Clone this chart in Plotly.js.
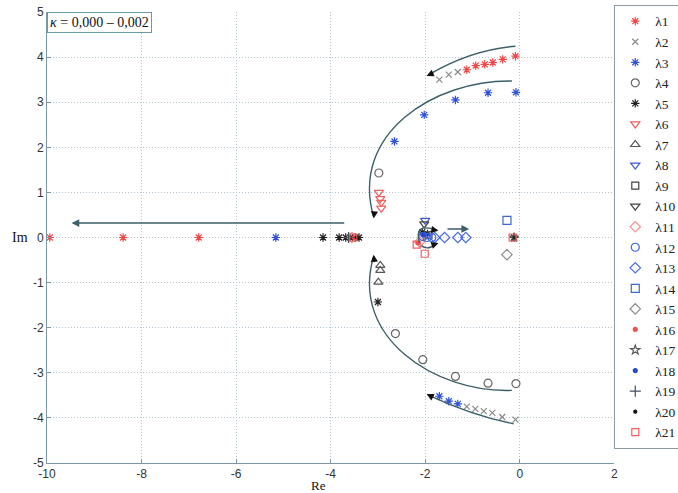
<!DOCTYPE html>
<html>
<head>
<meta charset="utf-8">
<script src="https://cdn.plot.ly/plotly-3.0.1.min.js"></script>
<style>html,body{margin:0;padding:0;background:#fff;}#chart{width:678px;height:493px;}</style>
</head>
<body>
<div id="chart"></div>
<script>
// ---- data ----
const names = ['λ1','λ2','λ3','λ4','λ5','λ6','λ7','λ8','λ9','λ10','λ11','λ12','λ13','λ14','λ15','λ16','λ17','λ18','λ19','λ20','λ21'];

const l1x = [-1.12,-0.93,-0.74,-0.57,-0.36,-0.09,-9.94,-8.39,-6.79];
const l1y = [3.72,3.81,3.84,3.88,3.95,4.02,0,0,0];
const l2x = [-1.70,-1.50,-1.31,-1.12,-0.94,-0.76,-0.58,-0.37,-0.09];
const l2y = [3.50,3.61,3.67,-3.75,-3.80,-3.85,-3.89,-3.98,-4.04];
const l3x = [-0.08,-0.67,-1.36,-2.02,-2.65,-1.70,-1.50,-1.31,-5.16];
const l3y = [3.22,3.21,3.05,2.72,2.13,-3.52,-3.63,-3.69,0];
const l4x = [-2.98,-2.63,-2.05,-1.36,-0.67,-0.08];
const l4y = [1.43,-2.13,-2.71,-3.08,-3.23,-3.24];
const l5x = [-3.00,-4.16,-3.82,-3.68,-3.58,-3.48,-3.40,-1.95,-2.06,-0.12];
const l5y = [-1.43,0,0,0,0,0,0,0.08,0.12,0];
const l6x = [-2.98,-2.95,-2.93,-2.93];
const l6y = [1.00,0.86,0.78,0.65];
const l7x = [-2.95,-2.95,-2.99];
const l7y = [-0.62,-0.73,-0.99];
const l8x = [-2.00];
const l8y = [0.38];
const l9x = [-1.93];
const l9y = [0.05];
const l10x = [-2.02];
const l10y = [0.30];
const l11x = [-3.55,-2.12];
const l11y = [0,-0.10];
const l12x = [-1.96,-1.86,-2.05];
const l12y = [0,0,0.02];
const l13x = [-1.80,-1.59,-1.31,-1.14];
const l13y = [0,0,0,0];
const l14x = [-0.27];
const l14y = [0.38];
const l15x = [-0.27];
const l15y = [-0.38];
const l16x = [-3.50,-2.15];
const l16y = [0,-0.12];
const l17x = [-0.12];
const l17y = [0];
const l18x = [-2.05];
const l18y = [0.06];
const l19x = [-3.62];
const l19y = [0];
const l20x = [-3.45];
const l20y = [0];
const l21x = [-2.01,-0.15,-2.18,-3.52];
const l21y = [-0.36,0,-0.16,0];

const xs = [l1x,l2x,l3x,l4x,l5x,l6x,l7x,l8x,l9x,l10x,l11x,l12x,l13x,l14x,l15x,l16x,l17x,l18x,l19x,l20x,l21x];
const ys = [l1y,l2y,l3y,l4y,l5y,l6y,l7y,l8y,l9y,l10y,l11y,l12y,l13y,l14y,l15y,l16y,l17y,l18y,l19y,l20y,l21y];

const xTicks = [-10,-8,-6,-4,-2,0,2];
const yTicks = [-5,-4,-3,-2,-1,0,1,2,3,4,5];

// ---- styles ----
const symbols = ['asterisk-open','x-thin-open','asterisk-open','circle-open','asterisk-open','triangle-down-open','triangle-up-open','triangle-down-open','square-open','triangle-down-open','diamond-open','circle-open','diamond-open','square-open','diamond-open','circle','star-open','circle','cross-thin-open','circle','square-open'];
const colors = ['#f04848','#8a8a8a','#3050d8','#666666','#222222','#f06060','#555555','#3a58d8','#444444','#444444','#f59090','#3a68dd','#4a6ae8','#3a68cc','#8a8a8a','#f05050','#555555','#2848d0','#445060','#111111','#f06060'];
const sizes = [7,6,7,8,7,8,8,8,7,8,8,8,8,8,8,4,7,4,8,3,7];

const traces = names.map((n,i)=>({
  type:'scatter', mode:'markers', name:n, x:xs[i], y:ys[i],
  marker:{symbol:symbols[i], color:colors[i], size:sizes[i], line:{color:colors[i], width:1.2}}
}));

// ---- arrow guides (annotation curves, data coords) ----
const arrowLine = '#3d5f68';
const curves = [
  'M -0.09,4.24 Q -1.03,4.16 -1.92,3.61',
  'M -0.165,3.47 C -1.8,3.5 -3.6,2.3 -3.09,0.46',
  'M -0.165,-3.39 C -1.8,-3.45 -3.6,-2.2 -3.09,-0.42',
  'M -0.13,-4.13 Q -1.0,-3.95 -1.92,-3.50',
  'M -2.12,-0.12 Q -2.25,0.35 -1.75,0.16',
  'M -2.08,-0.18 Q -1.95,-0.30 -1.75,-0.13'
];
const shapes = curves.map(p=>({type:'path', xref:'x', yref:'y', path:p, line:{color:arrowLine, width:1.4}}));

function head(x,y,ax,ay){
  return {x:x,y:y,ax:ax,ay:ay,xref:'x',yref:'y',axref:'x',ayref:'y',text:'',showarrow:true,
          arrowhead:2,arrowsize:1.1,arrowwidth:1.3,arrowcolor:'#111'};
}
const annotations = [
  head(-1.97,3.58,-1.80,3.66),
  head(-3.09,0.42,-3.07,0.60),
  head(-3.09,-0.38,-3.07,-0.58),
  head(-1.97,-3.47,-1.80,-3.56),
  head(-1.72,0.15,-1.82,0.17),
  head(-1.72,-0.12,-1.80,-0.15),
  {x:-9.48,y:0.32,ax:-3.68,ay:0.32,xref:'x',yref:'y',axref:'x',ayref:'y',text:'',showarrow:true,
   arrowhead:2,arrowsize:1.1,arrowwidth:1.4,arrowcolor:arrowLine},
  {x:-1.07,y:0.19,ax:-1.56,ay:0.19,xref:'x',yref:'y',axref:'x',ayref:'y',text:'',showarrow:true,
   arrowhead:2,arrowsize:1.1,arrowwidth:1.4,arrowcolor:arrowLine},
  {xref:'paper',yref:'paper',x:0,y:1,xanchor:'left',yanchor:'top',showarrow:false,
   text:'<i>κ</i> = 0,000 – 0,002',font:{family:'Liberation Serif',size:14,color:'#111'},
   bordercolor:'#6a9aa8',borderwidth:1,borderpad:2,bgcolor:'#fff'},
  {xref:'paper',yref:'y',x:-0.047,y:0,xanchor:'center',yanchor:'middle',showarrow:false,
   text:'Im',font:{family:'Liberation Serif',size:14,color:'#111'}},
  {xref:'paper',yref:'paper',x:0.478,y:-0.05,xanchor:'center',yanchor:'middle',showarrow:false,
   text:'Re',font:{family:'Liberation Serif',size:13,color:'#111'}}
];

const axisCommon = {
  showgrid:true, gridcolor:'#b3c6d4', griddash:'1px,2px', gridwidth:1,
  zeroline:false, showline:true, linecolor:'#7d96a4', linewidth:1,
  ticks:'inside', ticklen:4, tickcolor:'#7d96a4',
  tickfont:{family:'Liberation Sans', size:12, color:'#333'}
};

const layout = {
  width:678, height:493,
  margin:{l:47, r:56, t:12, b:30},
  paper_bgcolor:'#fff', plot_bgcolor:'#fff',
  xaxis:Object.assign({}, axisCommon, {range:[-10,2], tickvals:xTicks, ticktext:xTicks.map(String), fixedrange:true}),
  yaxis:Object.assign({}, axisCommon, {range:[-5,5], tickvals:yTicks, ticktext:yTicks.map(String), fixedrange:true}),
  showlegend:true,
  legend:{xref:'container', yref:'container', x:0.906, y:0.99, xanchor:'left', yanchor:'top',
          bgcolor:'#fff', bordercolor:'#8a9aa0', borderwidth:1, maxheight:1,
          font:{family:'Liberation Serif', size:13.5, color:'#222'}, tracegroupgap:0, itemwidth:30},
  shapes:shapes,
  annotations:annotations
};

Plotly.newPlot('chart', traces, layout, {staticPlot:true, displayModeBar:false});
</script>
</body>
</html>
